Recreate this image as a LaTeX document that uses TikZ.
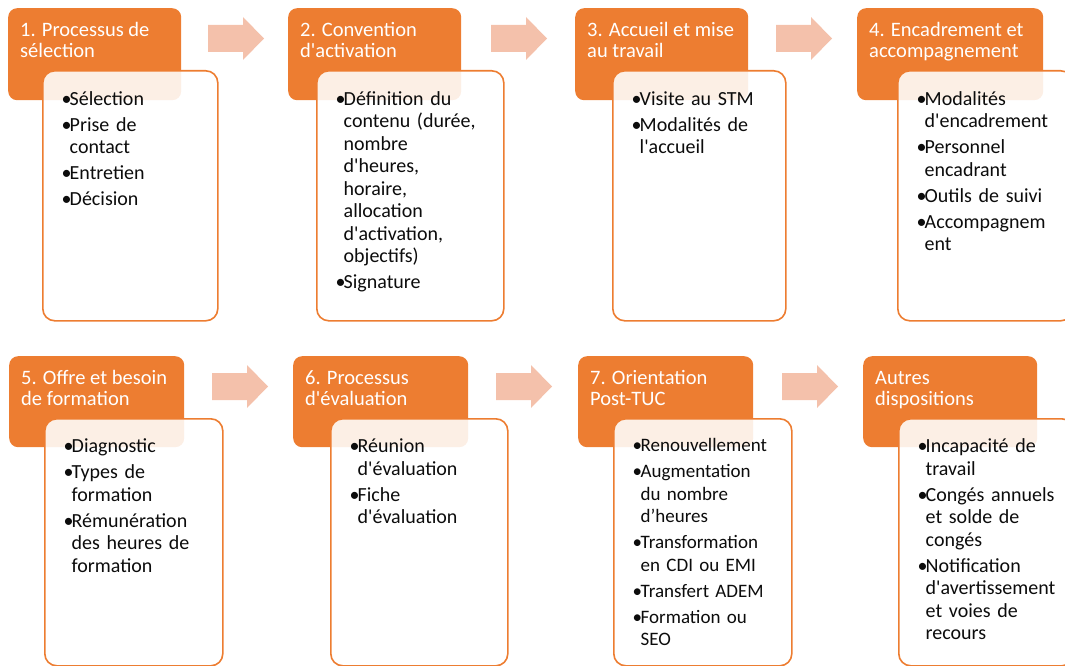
\documentclass[tikz,border=0pt]{standalone}
\usepackage{fontspec}
\setmainfont{Carlito}[Ligatures=TeXOff]
\usetikzlibrary{positioning}
\definecolor{tangerine}{RGB}{237,125,49}
\definecolor{peach}{RGB}{244,193,171}
\definecolor{ink}{RGB}{12,12,12}
\newcommand{\puce}[1]{\hangindent=8pt\hangafter=1\noindent\strut\makebox[8pt][l]{•}#1\par}

\begin{document}
\begin{tikzpicture}[x=1pt, y=-1pt,
    titlebox/.style={fill=tangerine, rounded corners=9pt, anchor=north west, inner sep=0pt, minimum height=92pt},
    listbox/.style={draw=tangerine, line width=1.6pt, fill=white, fill opacity=0.88, rounded corners=12pt, anchor=north west, inner sep=0pt, minimum height=250pt},
    titletext/.style={text=white, align=left, inner sep=0pt, font=\fontsize{20.5}{21.5}\selectfont},
    listtext/.style={text=ink, text width=165pt, align=left, inner sep=0pt, font=\fontsize{20}{22.5}\selectfont,
      execute at begin node={\setlength{\parskip}{3.5pt}}},
    fleche/.style={fill=peach}]
  \clip (0,0) rectangle (1065,666);

  % Block arrows between the steps
  \foreach \x in {208,491,776}
    \fill[fleche] (\x,25) -- ++(35,0) -- ++(0,-8) -- ++(21,21.5) -- ++(-21,21.5) -- ++(0,-8) -- ++(-35,0) -- cycle;
  \foreach \x in {212,496,782}
    \fill[fleche] (\x,373) -- ++(35,0) -- ++(0,-8) -- ++(21,21.5) -- ++(-21,21.5) -- ++(0,-8) -- ++(-35,0) -- cycle;

  % Orange heading boxes
  \node[titlebox, minimum width=173pt] (o1) at (8,8) {};
  \node[titlebox, minimum width=173pt] (o2) at (288,8) {};
  \node[titlebox, minimum width=173pt] (o3) at (575,8) {};
  \node[titlebox, minimum width=186pt] (o4) at (857,8) {};
  \node[titlebox, minimum width=175pt, minimum height=91pt] (o5) at (9,356) {};
  \node[titlebox, minimum width=175pt, minimum height=91pt] (o6) at (293,356) {};
  \node[titlebox, minimum width=175pt, minimum height=91pt] (o7) at (578,356) {};
  \node[titlebox, minimum width=174pt, minimum height=91pt] (o8) at (863,356) {};

  % White list boxes, laid over the headings
  \node[listbox, minimum width=175pt] (w1) at (42,70) {};
  \node[listbox, minimum width=187pt] (w2) at (316,70) {};
  \node[listbox, minimum width=173pt] (w3) at (612,70) {};
  \node[listbox, minimum width=175pt] (w4) at (897,70) {};
  \node[listbox, minimum width=178pt, minimum height=247pt] (w5) at (44,418) {};
  \node[listbox, minimum width=177pt, minimum height=247pt] (w6) at (330,418) {};
  \node[listbox, minimum width=178pt, minimum height=247pt] (w7) at (613,418) {};
  \node[listbox, minimum width=175pt, minimum height=247pt] (w8) at (898,418) {};

  % Headings
  \node[titletext, below right=13pt and 12pt of o1.north west] (t1) {\strut 1. Processus de\\sélection};
  \node[titletext, below right=13pt and 12pt of o2.north west] (t2) {\strut 2. Convention\\d'activation};
  \node[titletext, below right=13pt and 12pt of o3.north west] (t3) {\strut 3. Accueil et mise\\au travail};
  \node[titletext, below right=13pt and 12pt of o4.north west] (t4) {\strut 4. Encadrement et\\accompagnement};
  \node[titletext, below right=13pt and 12pt of o5.north west] (t5) {\strut 5. Offre et besoin\\de formation};
  \node[titletext, below right=13pt and 12pt of o6.north west] (t6) {\strut 6. Processus\\d'évaluation};
  \node[titletext, below right=13pt and 12pt of o7.north west] (t7) {\strut 7. Orientation\\Post-TUC};
  \node[titletext, below right=13pt and 12pt of o8.north west] (t8) {\strut Autres\\dispositions};

  % Bullet lists
  \node[listtext, below right=19.5pt and 19.5pt of w1.north west] (l1) {%
    \puce{Sélection}\puce{Prise de\newline contact}\puce{Entretien}\puce{Décision}};
  \node[listtext, below right=19.5pt and 19.5pt of w2.north west] (l2) {%
    \puce{Définition du\newline contenu (durée,\newline nombre\newline d'heures,\newline horaire,\newline allocation\newline d'activation,\newline objectifs)}%
    \puce{Signature}};
  \node[listtext, below right=19.5pt and 19.5pt of w3.north west] (l3) {%
    \puce{Visite au STM}\puce{Modalités de\newline l'accueil}};
  \node[listtext, below right=19.5pt and 19.5pt of w4.north west] (l4) {%
    \puce{Modalités\newline d'encadrement}\puce{Personnel\newline encadrant}\puce{Outils de suivi}\puce{Accompagnem\newline ent}};
  \node[listtext, below right=19pt and 19.5pt of w5.north west] (l5) {%
    \puce{Diagnostic}\puce{Types de\newline formation}\puce{Rémunération\newline des heures de\newline formation}};
  \node[listtext, below right=19pt and 19.5pt of w6.north west] (l6) {%
    \puce{Réunion\newline d'évaluation}\puce{Fiche\newline d'évaluation}};
  \node[listtext, font=\fontsize{19}{22.5}\selectfont, below right=18pt and 19.5pt of w7.north west] (l7) {%
    \puce{Renouvellement}\puce{Augmentation\newline du nombre\newline d’heures}\puce{Transformation\newline en CDI ou EMI}%
    \puce{Transfert ADEM}\puce{Formation ou\newline SEO}};
  \node[listtext, below right=19pt and 19.5pt of w8.north west] (l8) {%
    \puce{Incapacité de\newline travail}\puce{Congés annuels\newline et solde de\newline congés}%
    \puce{Notification\newline d'avertissement\newline et voies de\newline recours}};
\end{tikzpicture}
\end{document}
